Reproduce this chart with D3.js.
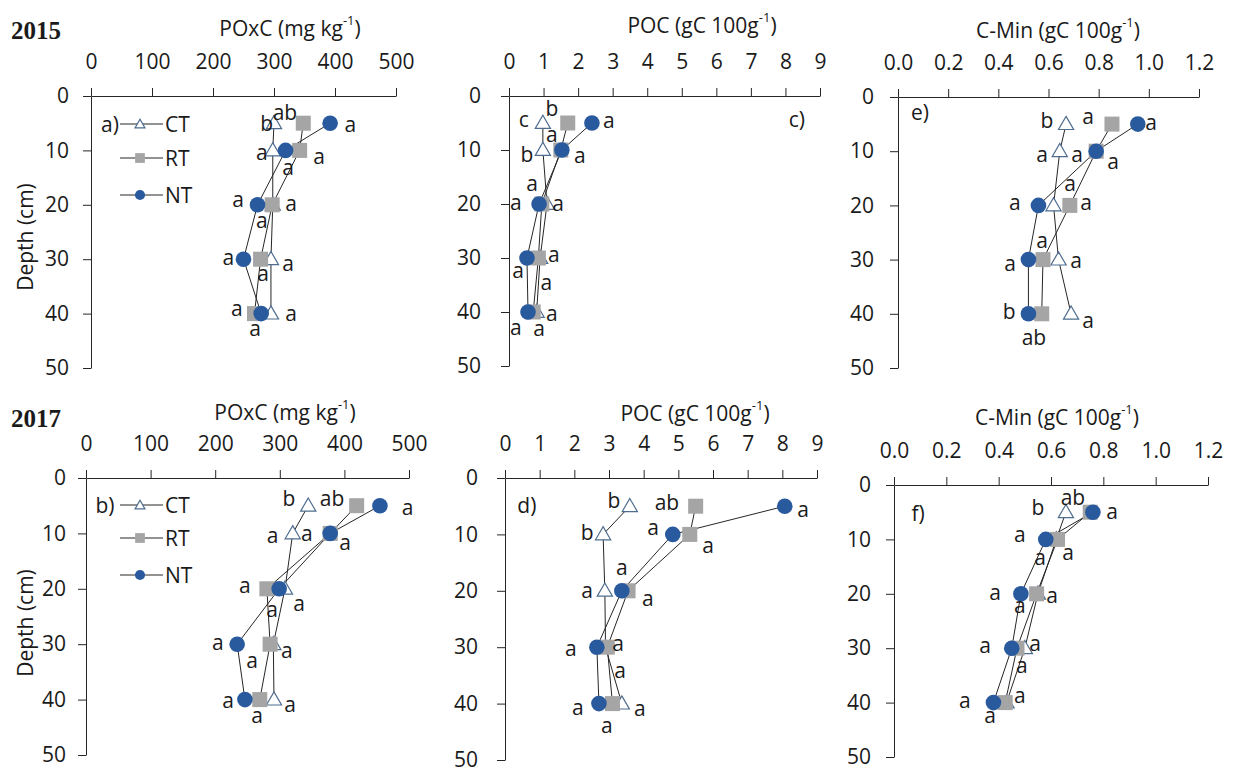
<!DOCTYPE html>
<html>
<head>
<meta charset="utf-8">
<script src="https://cdn.jsdelivr.net/npm/d3@7"></script>
<style>
body { margin: 0; background: #fff; }
text { font-family: "Open Sans", sans-serif; fill: #1a1a1a; }
</style>
</head>
<body>
<svg id="chart"></svg>
<script>
// Depths (cm) and treatments
const depths = [5, 10, 20, 30, 40];
const treatments = ["CT", "RT", "NT"];

// Axis tick values
const poxcTicks = [0, 100, 200, 300, 400, 500];
const pocTicks = [0, 1, 2, 3, 4, 5, 6, 7, 8, 9];
const cminTicks = [0, 0.2, 0.4, 0.6, 0.8, 1.0, 1.2];
const depthTicks = [0, 10, 20, 30, 40, 50];

// 2015
const poxc2015CT = [300, 298, 298, 295, 295];
const poxc2015RT = [348, 342, 297, 278, 268];
const poxc2015NT = [392, 319, 273, 250, 279];
const poc2015CT = [0.98, 0.98, 1.1, 0.9, 0.8];
const poc2015RT = [1.7, 1.5, 0.95, 0.85, 0.7];
const poc2015NT = [2.4, 1.53, 0.87, 0.52, 0.55];
const cmin2015CT = [0.67, 0.645, 0.62, 0.64, 0.69];
const cmin2015RT = [0.853, 0.79, 0.685, 0.578, 0.573];
const cmin2015NT = [0.956, 0.79, 0.56, 0.52, 0.52];

// 2017
const poxc2017CT = [344, 320, 308, 290, 291];
const poxc2017RT = [419, 378, 280, 285, 269];
const poxc2017NT = [455, 378, 299, 234, 246];
const poc2017CT = [3.6, 2.83, 2.88, 2.9, 3.37];
const poc2017RT = [5.5, 5.33, 3.55, 2.95, 3.1];
const poc2017NT = [8.07, 4.84, 3.37, 2.65, 2.71];
const cmin2017CT = [0.657, 0.62, 0.55, 0.5, 0.43];
const cmin2017RT = [0.75, 0.625, 0.545, 0.47, 0.425];
const cmin2017NT = [0.76, 0.58, 0.485, 0.45, 0.38];

// significance letters: [value, depth, text]
const lettersA = [[288,5,"b"],[318,2.9,"ab"],[425,5.2,"a"],[280,10.3,"a"],[374,11,"a"],[323,13,"a"],
  [241,18.9,"a"],[328,19.7,"a"],[280,22.8,"a"],[225,29.6,"a"],[323,30.7,"a"],[282,32.5,"a"],
  [239,39,"a"],[328,39.9,"a"],[269,42.6,"a"]];
const lettersC = [[0.43,4.3,"c"],[1.24,2.2,"b"],[2.89,4.4,"a"],[1.24,7,"a"],[0.52,10.7,"b"],[2.05,10.9,"a"],
  [0.67,16.1,"a"],[0.2,19.6,"a"],[1.42,19.8,"a"],[1.3,29.2,"a"],[0.26,32.2,"a"],[1.08,34.4,"a"],
  [1.24,40.2,"a"],[0.2,42.8,"a"],[0.87,43,"a"],[8.33,4.3,"c)"]];
const lettersE = [[0.088,2.8,"e)"],[0.594,4.2,"b"],[0.758,3.5,"a"],[1.009,4.6,"a"],[0.574,10.5,"a"],[0.714,10.5,"a"],
  [0.857,11.8,"a"],[0.686,15.9,"a"],[0.466,19.4,"a"],[0.75,19.4,"a"],[0.574,26.4,"a"],[0.447,30.6,"a"],
  [0.71,30.1,"a"],[0.443,39.5,"b"],[0.758,41.1,"a"],[0.542,44.3,"ab"]];
const lettersB = [[314,3.6,"b"],[381,3.6,"ab"],[498,5.2,"a"],[289,10.3,"a"],[342,9.9,"a"],[401,11.6,"a"],
  [246,19.3,"a"],[288,23.6,"a"],[330,22.6,"a"],[204,29.6,"a"],[311,31,"a"],[257,32.9,"a"],
  [220,40.1,"a"],[316,40.8,"a"],[265,42.8,"a"]];
const lettersD = [[0.63,4.8,"d)"],[3.14,3.9,"b"],[4.67,4.3,"ab"],[8.6,5.5,"a"],[2.37,9.6,"b"],[4.27,8.7,"a"],
  [5.86,11.9,"a"],[3.37,15.8,"a"],[2.37,19.9,"a"],[4.12,21.3,"a"],[1.9,30.1,"a"],[3.26,29.3,"a"],
  [3.32,34,"a"],[2.1,40.6,"a"],[3.89,40.8,"a"],[2.94,43.8,"a"]];
const lettersF = [[0.092,5.1,"f)"],[0.55,4,"b"],[0.684,2.2,"ab"],[0.833,4.8,"a"],[0.481,9,"a"],[0.665,12.3,"a"],
  [0.558,13.2,"a"],[0.386,19.7,"a"],[0.604,20.2,"a"],[0.481,22.1,"a"],[0.348,29.4,"a"],[0.539,29,"a"],
  [0.489,33.1,"a"],[0.271,39.5,"a"],[0.481,38.6,"a"],[0.367,42.3,"a"]];

const width = 1235, height = 772;
const lineColor = "#262626";
const colors = { CT: "#ffffff", RT: "#a5a5a5", NT: "#2a5a9e" };
const triStroke = "#4f6d8f";
const fontSize = 21;

const panels = [
  { title: "POxC (mg kg", series: [poxc2015CT, poxc2015RT, poxc2015NT], ticks: poxcTicks, fmt: d3.format("d"),
    letters: lettersA, x: [91, 396], y: [96, 368], pad: 14, tx: 290, ty: 28,
    year: "2015", yearY: 30, depthLabel: 237, legend: { label: "a)", y: [124, 158, 195] } },
  { title: "POC (gC 100g", series: [poc2015CT, poc2015RT, poc2015NT], ticks: pocTicks, fmt: d3.format("d"),
    letters: lettersC, x: [509, 820], y: [96, 366], pad: 20, tx: 702, ty: 25 },
  { title: "C-Min (gC 100g", series: [cmin2015CT, cmin2015RT, cmin2015NT], ticks: cminTicks, fmt: d3.format(".1f"),
    letters: lettersE, x: [898, 1199], y: [97, 368], pad: 16, tx: 1058, ty: 30 },
  { title: "POxC (mg kg", series: [poxc2017CT, poxc2017RT, poxc2017NT], ticks: poxcTicks, fmt: d3.format("d"),
    letters: lettersB, x: [86, 409], y: [478, 755], pad: 12, tx: 285, ty: 412,
    year: "2017", yearY: 418, depthLabel: 623, legend: { label: "b)", y: [505, 538, 575] } },
  { title: "POC (gC 100g", series: [poc2017CT, poc2017RT, poc2017NT], ticks: pocTicks, fmt: d3.format("d"),
    letters: lettersD, x: [505, 817], y: [478, 760], pad: 19, tx: 695, ty: 413 },
  { title: "C-Min (gC 100g", series: [cmin2017CT, cmin2017RT, cmin2017NT], ticks: cminTicks, fmt: d3.format(".1f"),
    letters: lettersF, x: [894, 1208], y: [485, 757], pad: 15, tx: 1057, ty: 417 }
];

const svg = d3.select("#chart").attr("width", width).attr("height", height);

function drawMarker(g, name, x, y, big) {
  const k = big ? 1 : 0.65;
  if (name === "CT") {
    g.append("path")
      .attr("d", d3.symbol(d3.symbolTriangle, 100 * k * k)())
      .attr("transform", `translate(${x},${y + 1})`)
      .attr("fill", colors.CT).attr("stroke", triStroke).attr("stroke-width", 1.2);
  } else if (name === "RT") {
    const s = 15 * k;
    g.append("rect").attr("x", x - s / 2).attr("y", y - s / 2)
      .attr("width", s).attr("height", s).attr("fill", colors.RT);
  } else {
    g.append("circle").attr("cx", x).attr("cy", y).attr("r", 7.8 * k).attr("fill", colors.NT);
  }
}

panels.forEach(p => {
  const x = d3.scaleLinear().domain([p.ticks[0], p.ticks[p.ticks.length - 1]]).range(p.x);
  const y = d3.scaleLinear().domain([0, 50]).range(p.y);
  const g = svg.append("g");

  // top axis
  const xa = g.append("g").attr("transform", `translate(0,${p.y[0]})`)
    .call(d3.axisTop(x).tickValues(p.ticks).tickFormat(p.fmt).tickSize(8).tickPadding(19).tickSizeOuter(0));
  // left axis
  const ya = g.append("g").attr("transform", `translate(${p.x[0]},0)`)
    .call(d3.axisLeft(y).tickValues(depthTicks).tickSize(8).tickPadding(p.pad).tickSizeOuter(0));
  [xa, ya].forEach(a => {
    a.select(".domain").attr("stroke", lineColor);
    a.selectAll(".tick line").attr("stroke", lineColor);
    a.selectAll("text").attr("font-size", fontSize).attr("fill", "#1a1a1a")
      .style("font-family", '"Open Sans", sans-serif');
  });

  // title
  const t = g.append("text").attr("x", p.tx).attr("y", p.ty).attr("text-anchor", "middle")
    .attr("dominant-baseline", "central").attr("font-size", 21);
  t.append("tspan").text(p.title);
  t.append("tspan").text("-1").attr("font-size", 13).attr("dy", -8);
  t.append("tspan").text(")").attr("dy", 8);

  if (p.year) {
    g.append("text").attr("x", 11).attr("y", p.yearY).attr("dominant-baseline", "central")
      .attr("font-size", 25).attr("font-weight", "bold")
      .style("font-family", '"Liberation Serif", "DejaVu Serif", serif').text(p.year);
    g.append("text").attr("transform", `translate(25,${p.depthLabel}) rotate(-90)`)
      .attr("text-anchor", "middle").attr("dominant-baseline", "central")
      .attr("font-size", 21).text("Depth (cm)");
    // legend
    const lg = g.append("g");
    lg.append("text").attr("x", p.x[0] + 19).attr("y", p.legend.y[0]).attr("text-anchor", "middle")
      .attr("dominant-baseline", "central").attr("font-size", fontSize).text(p.legend.label);
    treatments.forEach((name, i) => {
      const ly = p.legend.y[i];
      lg.append("line").attr("x1", 120).attr("x2", 163).attr("y1", ly).attr("y2", ly)
        .attr("stroke", lineColor).attr("stroke-width", 1);
      drawMarker(lg, name, 140, ly, false);
      lg.append("text").attr("x", 165).attr("y", ly).attr("dominant-baseline", "central")
        .attr("font-size", fontSize).text(name);
    });
  }

  // series
  const line = d3.line().x(d => x(d[0])).y(d => y(d[1]));
  treatments.forEach((name, i) => {
    const pts = p.series[i].map((v, j) => [v, depths[j]]);
    g.append("path").attr("d", line(pts)).attr("fill", "none")
      .attr("stroke", lineColor).attr("stroke-width", 1);
  });
  treatments.forEach((name, i) => {
    p.series[i].forEach((v, j) => drawMarker(g, name, x(v), y(depths[j]), true));
  });

  // letters
  g.selectAll("text.sig").data(p.letters).join("text").attr("class", "sig")
    .attr("x", d => x(d[0])).attr("y", d => y(d[1]))
    .attr("text-anchor", "middle").attr("dominant-baseline", "central")
    .attr("font-size", fontSize).text(d => d[2]);
});
</script>
</body>
</html>
